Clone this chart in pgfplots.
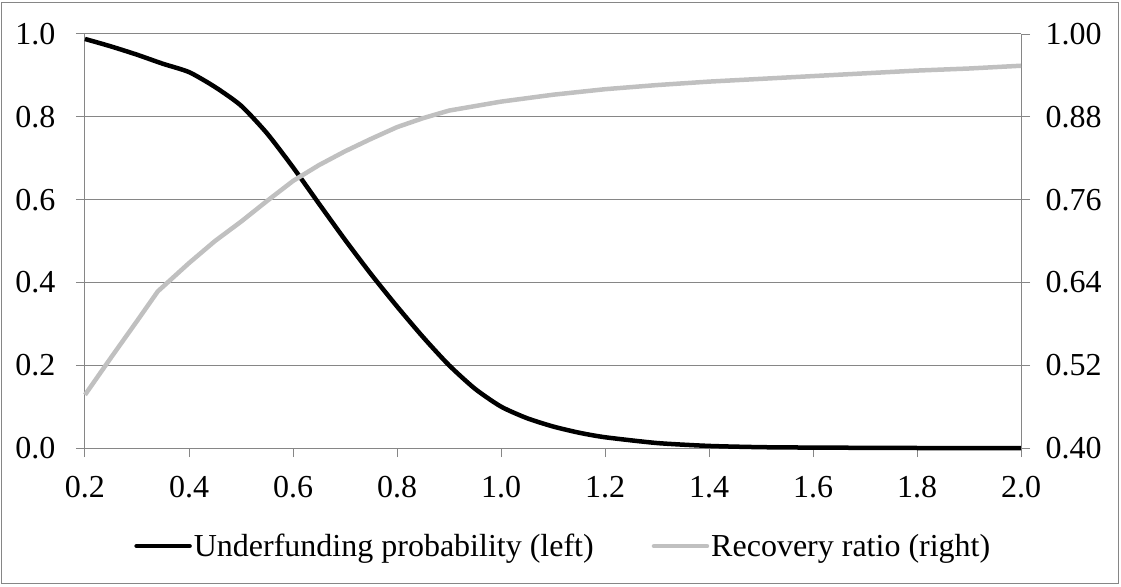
\documentclass[border=0pt]{standalone}
\usepackage{fontspec}
\setmainfont{Liberation Serif}
\usepackage{pgfplots}
\pgfplotsset{compat=1.18}
\definecolor{axgray}{RGB}{134,134,134}
\definecolor{lightgr}{RGB}{192,192,192}

\pgfplotstableread{
x    p
0.20 0.988
0.25 0.970
0.30 0.950
0.35 0.928
0.40 0.908
0.45 0.872
0.50 0.827
0.55 0.760
0.60 0.678
0.65 0.590
0.70 0.503
0.75 0.420
0.80 0.342
0.85 0.268
0.90 0.200
0.95 0.143
1.00 0.100
1.05 0.072
1.10 0.052
1.15 0.037
1.20 0.026
1.30 0.012
1.40 0.005
1.50 0.002
1.60 0.001
1.80 0.000
2.00 0.000
}\underfund

\pgfplotstableread{
x    r
0.20 0.477
0.25 0.531
0.30 0.584
0.34 0.627
0.40 0.668
0.45 0.700
0.50 0.728
0.55 0.758
0.60 0.787
0.65 0.810
0.70 0.830
0.75 0.848
0.80 0.865
0.85 0.878
0.90 0.889
1.00 0.902
1.10 0.912
1.20 0.920
1.30 0.926
1.40 0.931
1.50 0.935
1.60 0.939
1.70 0.943
1.80 0.947
1.90 0.950
2.00 0.954
}\recovery

\pgfplotsset{
  base/.style={
    width=936pt, height=414pt, scale only axis,
    xmin=0.2, xmax=2.0,
    clip=false,
    tick align=outside, major tick length=9pt,
    tick style={axgray, line width=1pt},
    axis line style={-, axgray, line width=1pt},
    tick label style={font=\fontsize{32}{38}\selectfont},
    /pgf/number format/assume math mode=true,
    /pgf/number format/fixed, /pgf/number format/fixed zerofill,
  },
}

\begin{document}
\begin{tikzpicture}
\useasboundingbox (-85pt,-138pt) rectangle (1036pt,448pt);
\draw[axgray, line width=1pt] (-83pt,-135pt) rectangle (1033pt,445pt);

\begin{axis}[base,
  at={(0pt,0pt)}, anchor=origin,
  axis x line*=bottom, axis y line*=left,
  ymin=0, ymax=1,
  xtick={0.2,0.4,0.6,0.8,1.0,1.2,1.4,1.6,1.8,2.0},
  ytick={0,0.2,0.4,0.6,0.8,1.0},
  xticklabel style={/pgf/number format/precision=1, yshift=-16pt},
  yticklabel style={/pgf/number format/precision=1, xshift=-17pt},
  ymajorgrids, major grid style={axgray, line width=1pt},
]
\addplot[black, line width=4.5pt, smooth, tension=0.4] table[x=x, y=p] {\underfund};
\end{axis}

\begin{axis}[base,
  at={(0pt,0pt)}, anchor=origin,
  axis x line=none, axis y line*=right,
  ymin=0.4, ymax=1.0,
  ytick={0.40,0.52,0.64,0.76,0.88,1.00},
  yticklabel style={/pgf/number format/precision=2, xshift=12pt},
  legend style={draw=none, fill=none, at={(0.511,-0.237)}, anchor=center,
    font=\fontsize{32}{38}\selectfont, legend columns=2,
    /tikz/every even column/.append style={column sep=56pt},
    nodes={inner sep=2pt}},
  legend image code/.code={\draw[#1, line cap=round] (0pt,0pt) -- (53pt,0pt);},
]
\addlegendimage{black, line width=4.5pt}
\addlegendentry{Underfunding probability (left)}
\addplot[lightgr, line width=4.5pt] table[x=x, y=r] {\recovery};
\addlegendentry{Recovery ratio (right)}
\end{axis}
\end{tikzpicture}
\end{document}
